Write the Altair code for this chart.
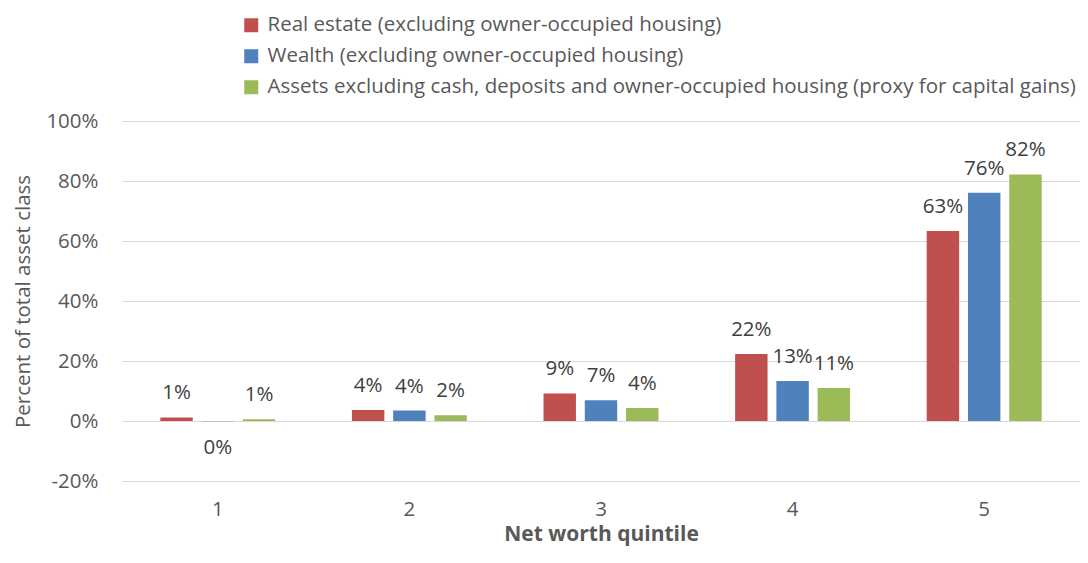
import altair as alt
import pandas as pd

quintiles = ["1", "2", "3", "4", "5"]
series = [
    "Real estate (excluding owner-occupied housing)",
    "Wealth (excluding owner-occupied housing)",
    "Assets excluding cash, deposits and owner-occupied housing (proxy for capital gains)",
]
real_estate = [1.2, 3.7, 9.2, 22.3, 63.3]
wealth = [-0.1, 3.5, 6.9, 13.3, 76.1]
assets = [0.6, 1.9, 4.3, 11.0, 82.2]
labels_real_estate = ["1%", "4%", "9%", "22%", "63%"]
labels_wealth = ["0%", "4%", "7%", "13%", "76%"]
labels_assets = ["1%", "2%", "4%", "11%", "82%"]
colors = ["#C0504D", "#4F81BD", "#9BBB59"]
y_ticks = [-20, 0, 20, 40, 60, 80, 100]

rows = []
for s, vals, labs in zip(series, [real_estate, wealth, assets],
                         [labels_real_estate, labels_wealth, labels_assets]):
    for q, v, l in zip(quintiles, vals, labs):
        rows.append({"quintile": q, "series": s, "value": v, "label": l})
df = pd.DataFrame(rows)

FONT = "Open Sans"
FS = 20.5

base = alt.Chart(df).encode(
    x=alt.X(
        "quintile:N",
        sort=quintiles,
        scale=alt.Scale(paddingInner=0.4, paddingOuter=0.2),
        axis=alt.Axis(
            title="Net worth quintile",
            labelAngle=0,
            domain=False,
            ticks=False,
            grid=False,
            labelPadding=18,
            labelFontSize=FS,
            labelColor="#595959",
            titleFontSize=21,
            titleFontWeight="bold",
            titleColor="#595959",
            titlePadding=4,
        ),
    ),
    xOffset=alt.XOffset(
        "series:N", sort=series, scale=alt.Scale(paddingInner=0.214, paddingOuter=0)
    ),
)

bars = base.mark_bar().encode(
    y=alt.Y(
        "value:Q",
        scale=alt.Scale(domain=[-20, 100], nice=False),
        axis=alt.Axis(
            title="Percent of total asset class",
            values=y_ticks,
            labelExpr="datum.value + '%'",
            domain=False,
            ticks=False,
            grid=True,
            gridColor="#D9D9D9",
            gridWidth=1,
            labelPadding=24,
            labelFontSize=FS,
            labelColor="#595959",
            titleFontSize=FS,
            titleFontWeight="normal",
            titleColor="#595959",
            titlePadding=12,
        ),
    ),
    color=alt.Color(
        "series:N",
        sort=series,
        scale=alt.Scale(domain=series, range=colors),
        legend=alt.Legend(
            title=None,
            orient="none",
            legendX=119,
            legendY=-106,
            direction="vertical",
            symbolType="square",
            symbolSize=196,
            symbolStrokeWidth=0,
            labelFontSize=FS,
            labelColor="#595959",
            labelLimit=0,
            labelOffset=6,
            rowPadding=10,
        ),
    ),
)

text_pos = base.mark_text(
    dy=-24, baseline="middle", fontSize=FS, color="#404040", font=FONT
).encode(y="value:Q", text="label:N").transform_filter("datum.value >= 0")

text_neg = base.mark_text(
    dy=27, baseline="middle", fontSize=FS, color="#404040", font=FONT
).encode(y="value:Q", text="label:N").transform_filter("datum.value < 0")

chart = (
    alt.layer(bars, text_pos, text_neg)
    .properties(
        width=958,
        height=360,
        padding={"left": 114, "top": 113, "right": 0, "bottom": 68},
        autosize=alt.AutoSizeParams(type="none"),
    )
    .configure(font=FONT)
    .configure_view(strokeWidth=0, stroke="transparent")
)

chart.save("out.html", embed_options={"renderer": "svg", "actions": False})
